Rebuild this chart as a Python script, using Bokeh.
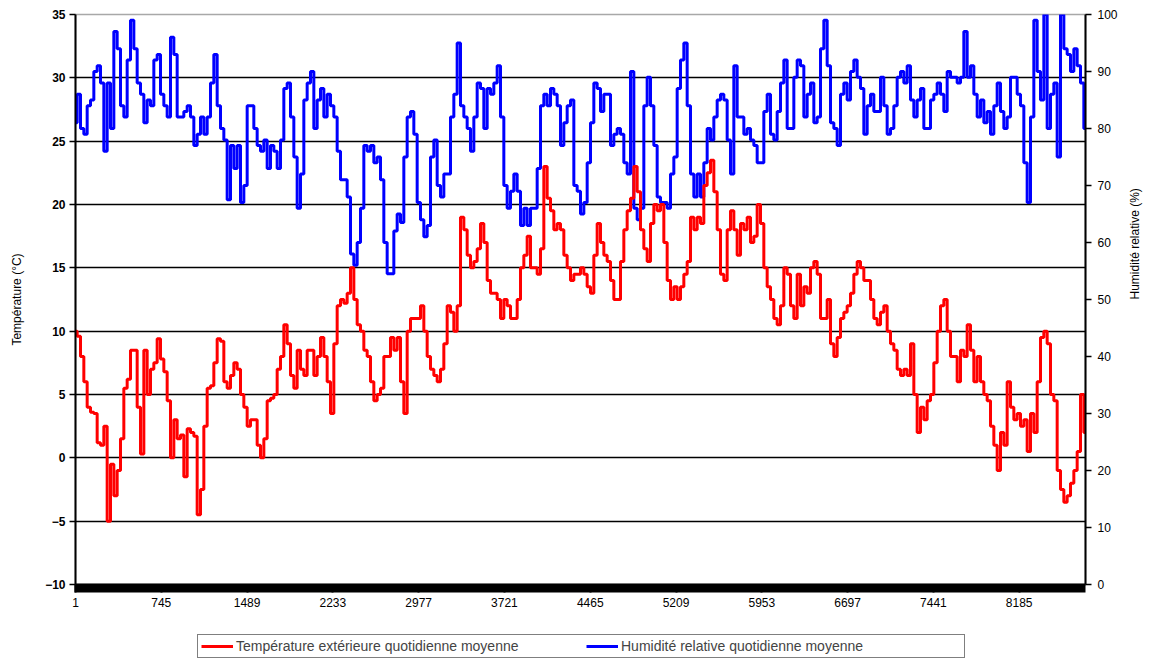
import math
import numpy as np
from bokeh.plotting import figure
from bokeh.layouts import column
from bokeh.models import Range1d, LinearAxis, FixedTicker, Legend, LegendItem
from bokeh.embed import file_html
from bokeh.resources import INLINE

# Daily mean outdoor temperature (°C), sampled along the year (hours 1..8760)
temperature = [
    10, 9.6, 8, 6, 4, 3.6, 3.5, 1.2, 1.0, 2.5, -5.0, -0.5, -3.0, -1.0, 1.5, 5.5, 6.2, 8.5, 8.5, 4,
    0.3, 8.5, 5, 7, 7.5, 9.4, 7.8, 6.8, 4.5, 0, 3, 1.5, 1.8, -1.5, 2.3, 2, 1.7, -4.5, -2.5, 2.5,
    5.5, 5.7, 7.5, 9.4, 9.2, 6, 5.5, 6.5, 7.5, 7, 5,
    4, 2.5, 3, 3, 1, 0, 1.5, 4.5, 4.7, 5, 7, 8, 10.5, 9, 6.5, 5.5, 8.5, 7, 6.5, 8.5,
    8.5, 6.5, 8, 9.5, 8, 6, 3.5, 9, 12, 12.5, 12.2, 13, 15, 12.5, 10.5, 10, 8.5, 8, 6, 4.5,
    5, 5.5, 8, 8, 9.5, 8.5, 9.5, 6, 3.5, 10, 11,
    11, 11, 12, 10, 8, 7, 6.5, 6, 7, 9, 12, 11.5, 10, 12, 19, 18, 16, 15, 15.5, 16.5,
    18.5, 17, 14, 13, 13, 12.5, 11, 12.5, 12, 11, 11, 12.5, 15, 16, 17.5, 15, 15, 14.5, 16.5, 23,
    20.5, 19.5, 18, 18.5, 18, 16, 15, 14, 14.5, 14.5, 15,
    14.5, 13.5, 13, 16, 18.5, 17, 16, 15.5, 14, 12.5, 12.5, 15.5, 18, 19.5, 20.5, 23, 21, 18, 16.5, 15.5,
    18.5, 20, 19.5, 20, 17, 14, 12.5, 13.5, 12.5, 13.5, 14.5, 15.5, 19, 18, 19, 18.5, 21.5, 22.5, 23.5, 21,
    18, 14.5, 14, 18, 19.5, 18, 16, 18.5, 18, 19, 17,
    17.5, 20, 18.5, 15, 13.5, 12.5, 11, 10.5, 12, 15, 14.5, 12, 11, 14.5, 12, 13.5, 13, 15, 15.5, 14.5,
    11, 11, 12.5, 9, 8, 9.5, 11, 11.5, 12, 13, 14.5, 15.5, 15, 14, 14, 12.5, 11, 10.5, 11.5, 12,
    10, 9, 8.5, 7, 6.5, 7, 6.5, 9, 5, 2, 4,
    3, 4.5, 5, 7.5, 10, 12, 12.5, 10, 8, 8, 6, 8.5, 8, 10.5, 8.5, 6, 8, 6, 5, 4.5,
    2.5, 1, -1, 2, 1, 6, 4, 3, 3.5, 2.5, 3, 0.5, 3.5, 2, 6, 9.5, 10, 9, 5, 4.5,
    -1, -2.5, -3.5, -3, -2, -1, 0.5, 5, 2,
]

# Daily mean relative humidity (%)
humidity = [
    81, 86, 80, 79, 84, 85, 90, 91, 88, 76, 88, 80, 97, 94, 84, 82, 92, 99, 94, 88,
    86, 81, 85, 84, 92, 93, 86, 84, 82, 96, 93, 82, 82, 83, 84, 82, 77, 79, 82, 79,
    82, 88, 93, 84, 80, 78, 67.5, 77, 73, 77, 67,
    70, 84, 84, 80, 77, 76, 78, 73, 77, 76, 73, 78, 87, 88, 82, 75, 66, 72, 85, 88,
    90, 80, 85, 87, 82, 86, 84, 82, 76, 71, 71, 68, 58, 56, 60, 66, 77, 76, 77, 74,
    75, 71, 60, 54.5, 54.5, 62, 65, 63.5, 75, 82, 83,
    79, 67, 64, 61, 63, 75, 78, 70, 68, 72, 72, 82, 86, 95, 84, 82, 80, 76, 82, 88,
    87, 80, 87, 86, 88, 91, 82, 70, 66, 69, 72, 69, 63, 66, 63, 66, 66, 73, 84, 86,
    84, 87, 86, 84, 77, 81, 84, 85, 70, 69, 65,
    67, 74, 81, 88, 87, 83, 86, 86, 77, 79, 80, 79, 74, 72, 90, 66, 64, 66, 84, 89,
    84, 77, 68, 67, 67, 66, 72, 75, 87, 92, 95, 84, 72, 68, 72, 68, 74, 80, 78, 82,
    85, 86, 85, 78, 72, 91, 82, 82, 79, 80, 78,
    77, 74, 74, 83, 86, 79, 78, 83, 88, 92, 80, 80, 89, 92, 91, 82, 86, 88, 81, 82,
    94, 99, 91, 81, 80, 77, 86, 88, 85, 90, 92, 89, 87, 79, 84, 86, 83, 83, 89, 84,
    79, 80, 84, 89, 90, 88, 91, 85, 82, 85, 87,
    80, 80, 85, 86, 88, 86, 83, 90, 89, 89, 88, 89, 97, 89, 91, 86, 82, 85, 81, 83,
    79, 84, 88, 83, 80, 82, 89, 89, 86, 84, 74, 67, 82, 99, 90, 85, 100, 80, 86, 88,
    75, 100, 94, 93, 90, 94, 91, 88, 80,
]

x_ticks = [1, 745, 1489, 2233, 2977, 3721, 4465, 5209, 5953, 6697, 7441, 8185]
temp_ticks = [-10, -5, 0, 5, 10, 15, 20, 25, 30, 35]
hum_ticks = [0, 10, 20, 30, 40, 50, 60, 70, 80, 90, 100]

label_temp = "Température extérieure quotidienne moyenne"
label_hum = "Humidité relative quotidienne moyenne"

hours = np.linspace(1, 8760, len(temperature))

FONT = "Liberation Sans"
RED = "#FF0000"
BLUE = "#0000FF"

p = figure(width=1152, height=620, output_backend="svg", toolbar_location=None,
           x_range=Range1d(1, 8760), y_range=Range1d(-10, 35),
           min_border_left=75, min_border_right=67, min_border_top=14, min_border_bottom=36)
p.background_fill_color = "white"
p.border_fill_color = "white"
p.outline_line_color = "#a8a8a8"
p.outline_line_width = 1.5

p.extra_y_ranges = {"hum": Range1d(0, 100)}

# grid
p.xgrid.visible = False
p.ygrid.ticker = FixedTicker(ticks=temp_ticks[1:-1])
p.ygrid.grid_line_color = "black"
p.ygrid.grid_line_width = 1.5

# x axis (dense hourly-style tick band)
xa = p.xaxis[0]
xa.ticker = FixedTicker(ticks=x_ticks, minor_ticks=list(range(1, 8761, 12)))
xa.axis_line_width = 2
xa.major_tick_in = 0
xa.major_tick_out = 8
xa.major_tick_line_width = 2
xa.minor_tick_in = 0
xa.minor_tick_out = 8
xa.minor_tick_line_width = 2
xa.major_label_standoff = 5
xa.major_label_text_font = FONT
xa.major_label_text_font_size = "12px"
xa.major_label_text_color = "black"

# left axis
ya = p.yaxis[0]
ya.ticker = FixedTicker(ticks=temp_ticks)
ya.axis_line_width = 2
ya.major_tick_in = 0
ya.major_tick_out = 6
ya.major_tick_line_width = 1.5
ya.minor_tick_out = 0
ya.minor_tick_in = 0
ya.major_label_standoff = 4
ya.major_label_text_font = FONT
ya.major_label_text_font_size = "12px"
ya.major_label_text_font_style = "bold"
ya.major_label_text_color = "black"
ya.axis_label = "Température (°C)"
ya.axis_label_text_font = FONT
ya.axis_label_text_font_size = "12px"
ya.axis_label_text_font_style = "normal"
ya.axis_label_text_color = "black"
ya.axis_label_standoff = 18

# right axis
ra = LinearAxis(y_range_name="hum", ticker=FixedTicker(ticks=hum_ticks))
ra.axis_line_width = 2
ra.major_tick_in = 0
ra.major_tick_out = 6
ra.major_tick_line_width = 1.5
ra.minor_tick_out = 0
ra.minor_tick_in = 0
ra.major_label_standoff = 6
ra.major_label_text_font = FONT
ra.major_label_text_font_size = "12px"
ra.major_label_text_color = "black"
ra.axis_label = "Humidité relative (%)"
ra.axis_label_text_font = FONT
ra.axis_label_text_font_size = "12px"
ra.axis_label_text_font_style = "normal"
ra.axis_label_text_color = "black"
ra.axis_label_standoff = 14
if "axis_label_orientation" in ra.properties():
    ra.axis_label_orientation = math.pi / 2
p.add_layout(ra, "right")

p.step(hours, humidity, mode="center", y_range_name="hum", line_color=BLUE, line_width=3)
p.step(hours, temperature, mode="center", line_color=RED, line_width=3)

# legend strip below the chart (its ranges exclude the data, so only the legend shows)
lg = figure(width=1152, height=40, output_backend="svg", toolbar_location=None,
            x_range=Range1d(-2, -1), y_range=Range1d(-200, -100),
            min_border_left=0, min_border_right=0, min_border_top=0, min_border_bottom=0)
lg.axis.visible = False
lg.grid.visible = False
lg.outline_line_color = None
lg.border_fill_color = "white"
lr_temp = lg.line(hours, temperature, line_color=RED, line_width=3)
lr_hum = lg.line(hours, humidity, line_color=BLUE, line_width=3)

legend = Legend(items=[LegendItem(label=label_temp, renderers=[lr_temp]),
                       LegendItem(label=label_hum, renderers=[lr_hum])],
                orientation="horizontal", location=(122, 2))
legend.label_text_font = FONT
legend.label_text_font_size = "14px"
legend.label_width = 340
legend.glyph_width = 32
legend.glyph_height = 14
legend.label_standoff = 3
legend.label_height = 14
legend.spacing = 10
legend.padding = 3
legend.margin = 0
legend.border_line_color = "black"
legend.border_line_width = 1.5
legend.background_fill_alpha = 1
lg.add_layout(legend, "center")

layout = column(p, lg, spacing=0)
open("out.html", "w").write(file_html(layout, INLINE))
